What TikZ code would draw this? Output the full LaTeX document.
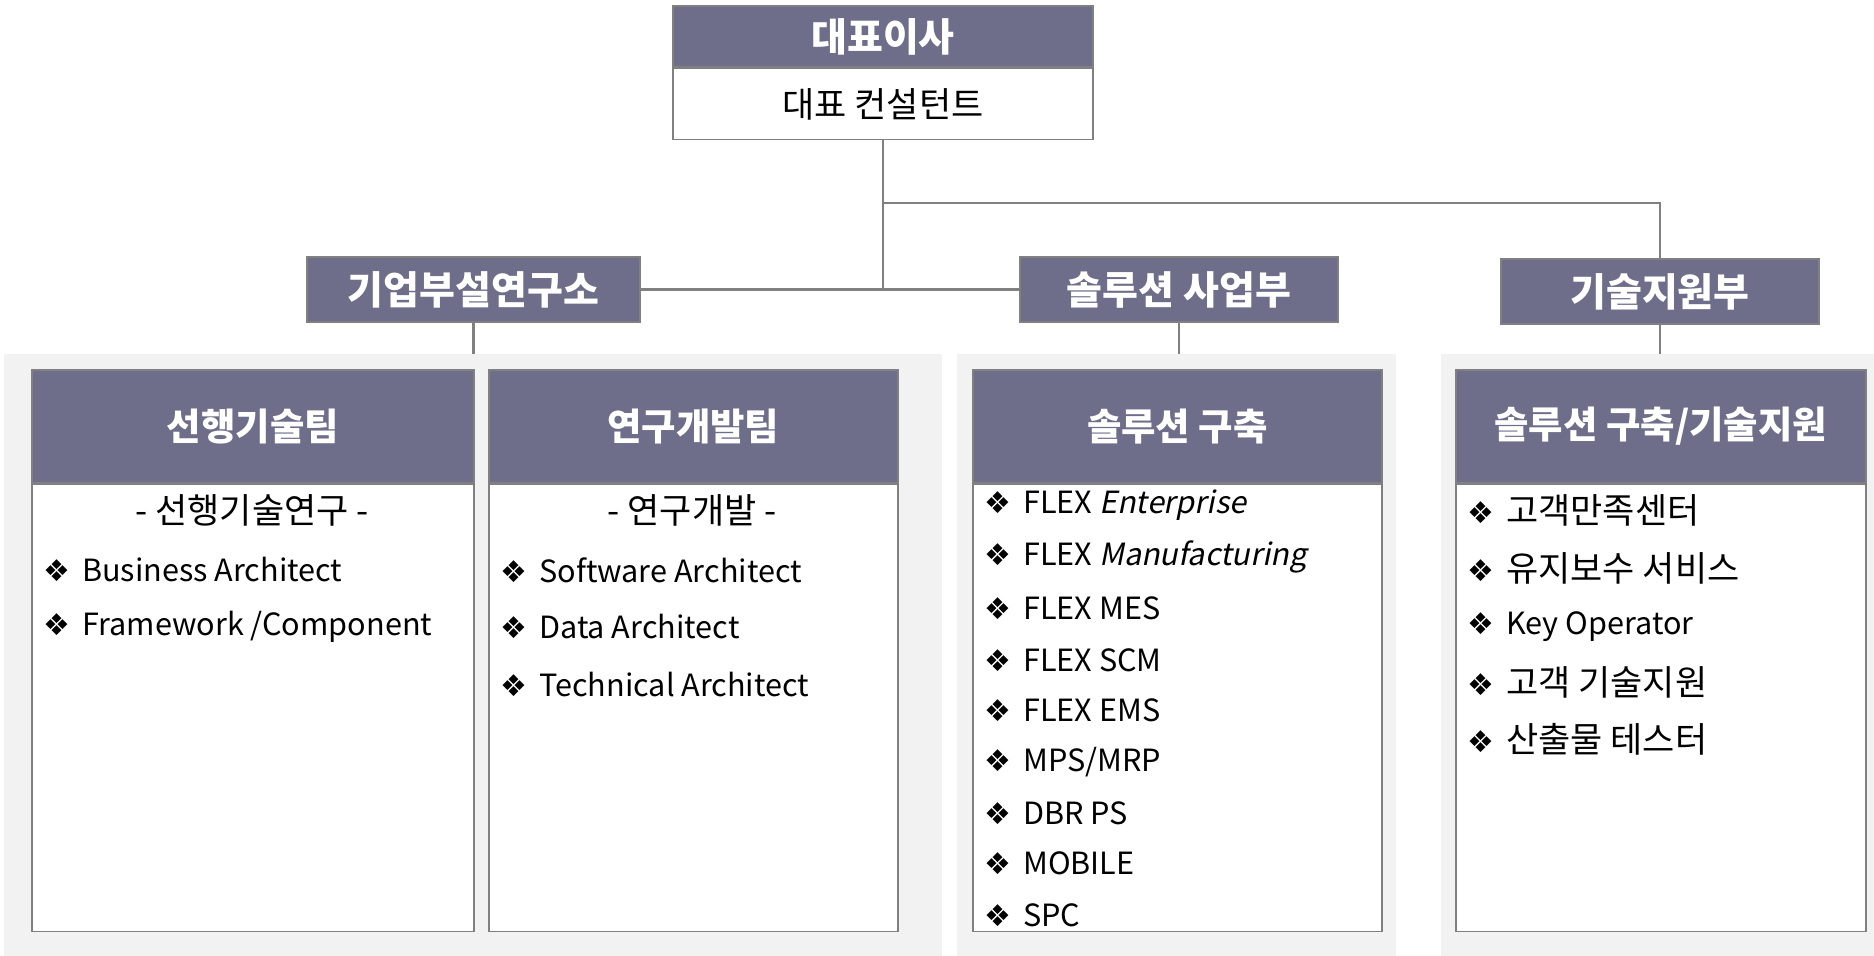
\documentclass[tikz,border=0pt]{standalone}
\usepackage{fontspec}
\setmainfont{Noto Sans CJK KR}
\newfontfamily\symfont{DejaVu Sans}
\newfontfamily\slfont[FakeSlant=0.2]{Noto Sans CJK KR}
\usetikzlibrary{positioning}

\definecolor{hdrfill}{RGB}{110,110,139}
\definecolor{edgegray}{RGB}{128,128,128}
\definecolor{panelfill}{RGB}{242,242,242}

\newcommand{\itm}[1]{{\symfont\fontsize{15}{15}\selectfont ❖}\hspace{6pt}#1}

\tikzset{
	hdr/.style={draw=edgegray, line width=0.8pt, fill=hdrfill, text=white,
		inner sep=0pt, font=\bfseries\fontsize{19.5}{19.5}\selectfont},
	team/.style={hdr, minimum height=56.5pt, font=\bfseries\fontsize{18.7}{18.7}\selectfont},
	bodybox/.style={draw=edgegray, line width=0.8pt, fill=white, inner sep=0pt},
	panel/.style={fill=panelfill, inner sep=0pt},
	sub/.style={font=\fontsize{17.5}{17.5}\selectfont, inner sep=0pt},
	item/.style={font=\fontsize{15.3}{15.3}\selectfont, inner sep=0pt, anchor=west},
	kitem/.style={sub, anchor=west},
	link/.style={draw=edgegray, line width=1.3pt}
}

\begin{document}
\begin{tikzpicture}[x=0.5pt,y=-0.5pt]

	\useasboundingbox (0,0) rectangle (1874,956);

	% grey panels
	\node[panel, minimum width=469pt, minimum height=301pt, anchor=north west] (panA) at (4,354) {};
	\node[panel, minimum width=219.5pt, minimum height=301pt, anchor=north west] (panB) at (957,354) {};
	\node[panel, minimum width=216.5pt, minimum height=301pt, anchor=north west] (panC) at (1441,354) {};

	% top
	\node[hdr, minimum width=210pt, minimum height=30.5pt] (ceo) at (883,36.5) {대표이사};
	\node[bodybox, minimum width=210pt, minimum height=35.5pt, anchor=north, font=\fontsize{17.5}{17.5}\selectfont] (ceosub) at (ceo.south) {대표 컨설턴트};

	% departments
	\node[hdr, minimum width=166.5pt, minimum height=32.5pt] (lab) at (473.5,289.5) {기업부설연구소};
	\node[hdr, minimum width=159pt, minimum height=32.5pt] (sol) at (1179,289.5) {솔루션 사업부};
	\node[hdr, minimum width=159pt, minimum height=32.5pt] (tech) at (1660,291.5) {기술지원부};

	\coordinate (split) at (883,203);
	\coordinate (hub) at (883,289);
	\draw[link] (ceosub.south) -- (hub);
	\draw[link] (lab.east) -- (sol.west);
	\draw[link] (split) -| (tech.north);
	\draw[link] (lab.south) -- (lab.south |- panA.north);
	\draw[link] (sol.south) -- (sol.south |- panB.north);
	\draw[link] (tech.south) -- (tech.south |- panC.north);

	% teams
	\node[team, minimum width=221pt, anchor=north west] (adv) at (31,369) {선행기술팀};
	\node[bodybox, minimum width=221pt, minimum height=223.5pt, anchor=north] (advb) at (adv.south) {};
	\node[team, minimum width=204.5pt, anchor=north west] (rnd) at (488,369) {연구개발팀};
	\node[bodybox, minimum width=204.5pt, minimum height=223.5pt, anchor=north] (rndb) at (rnd.south) {};
	\node[team, minimum width=204.5pt, anchor=north west] (build) at (972,369) {솔루션 구축};
	\node[bodybox, minimum width=204.5pt, minimum height=223.5pt, anchor=north] (buildb) at (build.south) {};
	\node[team, minimum width=205pt, anchor=north west] (supp) at (1455,369) {솔루션 구축/기술지원};
	\node[bodybox, minimum width=205pt, minimum height=223.5pt, anchor=north] (suppb) at (supp.south) {};

	% advanced tech team
	\node[sub] (adv0) at (252,510) {- 선행기술연구 -};
	\node[item] (adv1) at (43,570) {\itm{Business Architect}};
	\node[item] (adv2) at (43,627) {\itm{Framework /Component}};

	% research team
	\node[sub] (rnd0) at (692,510) {- 연구개발 -};
	\node[item] (rnd1) at (500,570) {\itm{Software Architect}};
	\node[item] (rnd2) at (500,627) {\itm{Data Architect}};
	\node[item] (rnd3) at (500,685) {\itm{Technical Architect}};

	% solution team
	\node[item] (build1) at (984,505) {\itm{FLEX {\slfont Enterprise}}};
	\node[item] (build2) at (984,557) {\itm{FLEX {\slfont Manufacturing}}};
	\node[item] (build3) at (984,608) {\itm{FLEX MES}};
	\node[item] (build4) at (984,660) {\itm{FLEX SCM}};
	\node[item] (build5) at (984,710) {\itm{FLEX EMS}};
	\node[item] (build6) at (984,762) {\itm{MPS/MRP}};
	\node[item] (build7) at (984,813) {\itm{DBR PS}};
	\node[item] (build8) at (984,863) {\itm{MOBILE}};
	\node[item] (build9) at (984,915) {\itm{SPC}};

	% support team
	\node[kitem] (supp1) at (1467,510) {\itm{고객만족센터}};
	\node[kitem] (supp2) at (1467,568) {\itm{유지보수 서비스}};
	\node[item] (supp3) at (1467,627) {\itm{Key Operator}};
	\node[kitem] (supp4) at (1467,682) {\itm{고객 기술지원}};
	\node[kitem] (supp5) at (1467,739) {\itm{산출물 테스터}};

\end{tikzpicture}
\end{document}
